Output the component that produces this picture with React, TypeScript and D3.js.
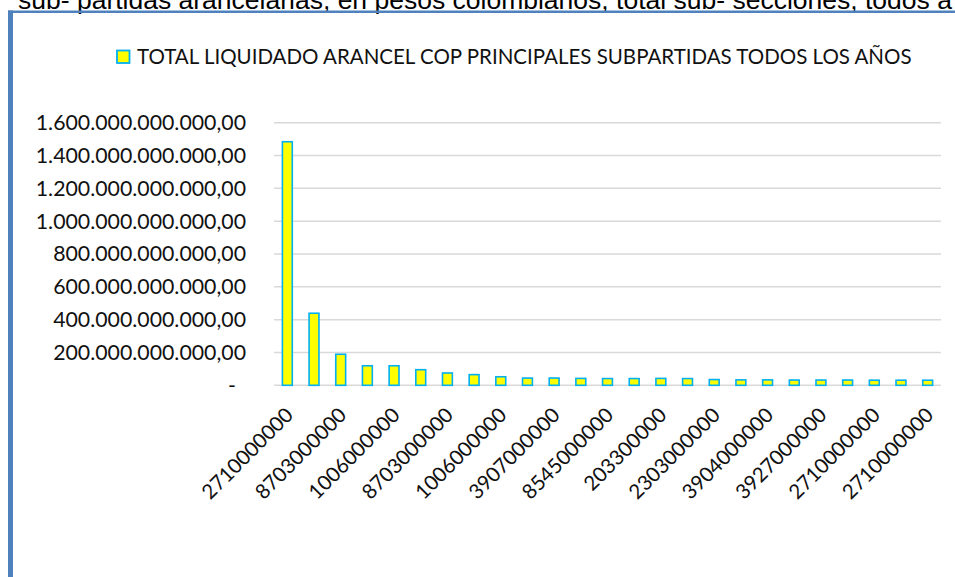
import React, { useEffect, useRef } from 'react';
import * as d3 from 'd3';

// Subpartida codes (Excel only shows every other label)
const codes = [
  '2710000000', '', '8703000000', '', '1006000000', '', '8703000000', '', '1006000000', '',
  '3907000000', '', '8545000000', '', '203300000', '', '2303000000', '', '3904000000', '',
  '3927000000', '', '2710000000', '', '2710000000'
];
// total liquidado, thousand millions COP
const totals = [
  1484, 439, 189, 119, 119, 95, 75, 65, 52, 44,
  44, 42, 41, 41, 42, 41, 35, 33, 33, 32,
  32, 32, 31, 31, 31
];
const yTicks = [0, 200, 400, 600, 800, 1000, 1200, 1400, 1600];

const headerText = 'sub- partidas arancelarias, en pesos colombianos, total sub- secciones, todos a';
const legendText = 'TOTAL LIQUIDADO ARANCEL COP PRINCIPALES SUBPARTIDAS TODOS LOS AÑOS';

const App = () => {
  const ref = useRef<SVGSVGElement>(null);

  useEffect(() => {
    const svg = d3.select(ref.current);
    svg.selectAll('*').remove();

    const W = 955, H = 577;
    const plot = { left: 274, right: 941, top: 122.7, bottom: 385.3 };

    svg.append('rect').attr('width', W).attr('height', H).attr('fill', 'white');

    // header text cut off at top of page
    svg.append('text')
      .attr('x', 18).attr('y', 9)
      .attr('font-family', '"Liberation Sans", Arial, sans-serif')
      .attr('font-size', 26.5)
      .attr('fill', '#000')
      .text(headerText);

    // frame
    svg.append('rect').attr('x', 8).attr('y', 10.5).attr('width', W - 8).attr('height', 2.5).attr('fill', '#4f81bd');
    svg.append('rect').attr('x', 8).attr('y', 10.5).attr('width', 5).attr('height', H - 10.5).attr('fill', '#4f81bd');

    const x = d3.scaleBand<number>()
      .domain(d3.range(totals.length))
      .range([plot.left, plot.right])
      .paddingInner(0.63)
      .paddingOuter(0.315);

    const y = d3.scaleLinear()
      .domain([0, 1600])
      .range([plot.bottom, plot.top]);

    const loc = d3.formatLocale({ decimal: ',', thousands: '.', grouping: [3], currency: ['$', ''] });
    const fmt = loc.format(',.2f');

    const font = 'Lato, "Open Sans", sans-serif';

    // gridlines
    svg.append('g')
      .selectAll('line')
      .data(yTicks)
      .join('line')
      .attr('x1', plot.left).attr('x2', plot.right)
      .attr('y1', d => y(d)).attr('y2', d => y(d))
      .attr('stroke', '#d9d9d9')
      .attr('stroke-width', 1.5);

    // y labels
    svg.append('g')
      .selectAll('text')
      .data(yTicks)
      .join('text')
      .attr('x', d => d === 0 ? 236 : 246)
      .attr('y', d => y(d))
      .attr('dy', '0.35em')
      .attr('text-anchor', 'end')
      .attr('font-family', font)
      .attr('font-size', 21.3)
      .attr('fill', '#111')
      .text(d => d === 0 ? '-' : fmt(d * 1e9));

    // bars
    svg.append('g')
      .selectAll('rect')
      .data(totals)
      .join('rect')
      .attr('x', (d, i) => x(i)!)
      .attr('y', d => y(d))
      .attr('width', x.bandwidth())
      .attr('height', d => plot.bottom - y(d))
      .attr('fill', '#ffff00')
      .attr('stroke', '#00b0f0')
      .attr('stroke-width', 1.6);

    // x labels
    svg.append('g')
      .selectAll('text')
      .data(codes.map((c, i) => ({ c, i })).filter(d => d.c !== ''))
      .join('text')
      .attr('transform', d => `translate(${x(d.i)! + x.bandwidth() / 2 + 2},${plot.bottom + 26}) rotate(-45)`)
      .attr('dy', '0.35em')
      .attr('text-anchor', 'end')
      .attr('font-family', font)
      .attr('font-size', 20.5)
      .attr('fill', '#111')
      .text(d => d.c);

    // legend
    svg.append('rect')
      .attr('x', 117).attr('y', 50.5).attr('width', 12.5).attr('height', 12.5)
      .attr('fill', '#ffff00').attr('stroke', '#00b0f0').attr('stroke-width', 1.8);
    svg.append('text')
      .attr('x', 137).attr('y', 64)
      .attr('font-family', font)
      .attr('font-size', 20.5)
      .attr('fill', '#111')
      .text(legendText);
  }, []);

  return (
    <svg ref={ref} width={955} height={577} style={{ position: 'absolute', left: 0, top: 0 }} />
  );
};

export default App;
